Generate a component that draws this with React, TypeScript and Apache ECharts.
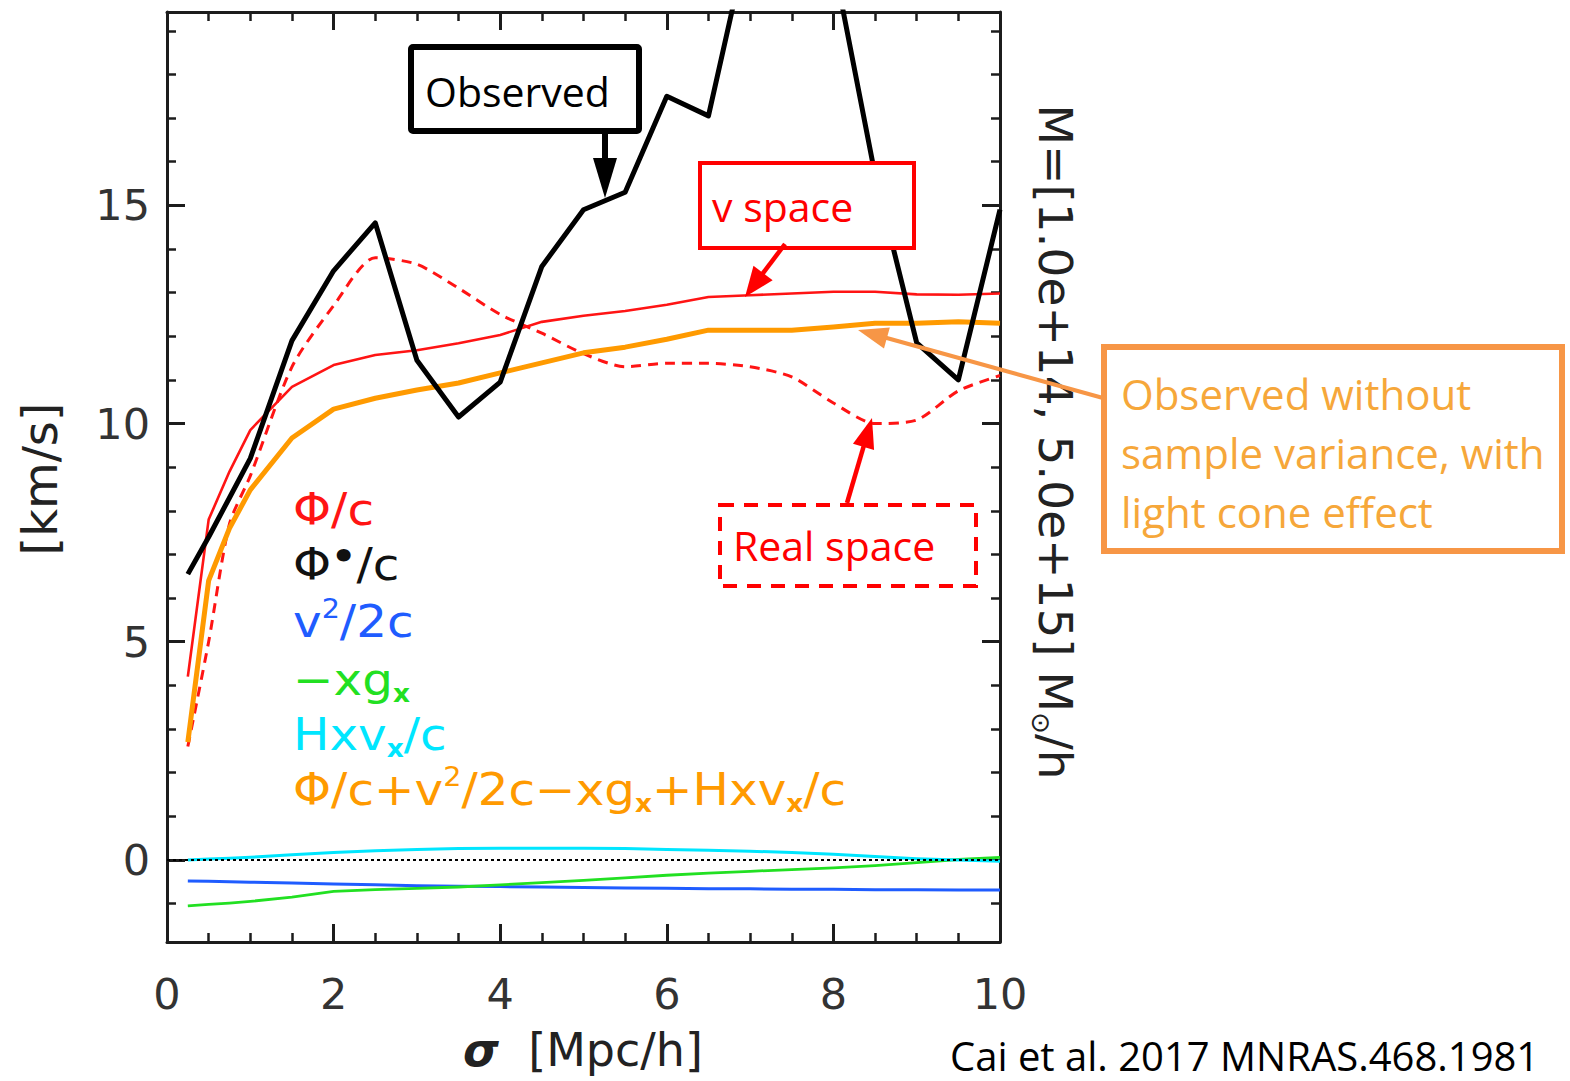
import React, { useEffect, useRef } from 'react';
import * as echarts from 'echarts';

// sigma [Mpc/h]
const sigma = [0.25, 0.5, 0.75, 1, 1.5, 2, 2.5, 3, 3.5, 4, 4.5, 5, 5.5, 6, 6.5, 7, 7.5, 8, 8.5, 9, 9.5, 10];
// Φ*/c observed (black)
const observed = [6.55, 7.4, 8.3, 9.2, 11.9, 13.5, 14.6, 11.45, 10.15, 10.95, 13.6, 14.9, 15.3, 17.5, 17.05, 21.3, 22.0, 20.6, 15.7, 11.85, 11.0, 14.9];
// Φ/c in v space (red solid)
const vSpace = [4.2, 7.8, 8.9, 9.85, 10.84, 11.34, 11.57, 11.68, 11.84, 12.03, 12.33, 12.47, 12.58, 12.72, 12.9, 12.94, 12.98, 13.02, 13.02, 12.96, 12.95, 12.98];
// Φ/c in real space (red dashed)
const realSpace = [2.6, 5.0, 7.7, 8.8, 11.3, 12.7, 13.8, 13.65, 13.1, 12.5, 12.07, 11.6, 11.3, 11.38, 11.38, 11.3, 11.07, 10.47, 10.0, 10.08, 10.75, 11.1];
// v^2/2c (blue)
const v2 = [-0.48, -0.49, -0.5, -0.51, -0.53, -0.55, -0.57, -0.59, -0.6, -0.61, -0.62, -0.63, -0.64, -0.65, -0.66, -0.66, -0.67, -0.67, -0.68, -0.68, -0.69, -0.69];
// -x g_x (green)
const xg = [-1.05, -1.02, -0.99, -0.95, -0.85, -0.72, -0.68, -0.65, -0.62, -0.57, -0.52, -0.47, -0.41, -0.35, -0.3, -0.26, -0.22, -0.18, -0.13, -0.06, 0.01, 0.06];
// H x v_x / c (cyan)
const hxv = [0.0, 0.02, 0.04, 0.06, 0.12, 0.17, 0.21, 0.24, 0.26, 0.27, 0.27, 0.27, 0.26, 0.24, 0.22, 0.2, 0.17, 0.13, 0.08, 0.03, 0.0, -0.03];
// sum (orange)
const total = [2.7, 6.4, 7.6, 8.48, 9.67, 10.33, 10.58, 10.77, 10.93, 11.16, 11.39, 11.62, 11.75, 11.93, 12.14, 12.14, 12.14, 12.21, 12.3, 12.3, 12.33, 12.3];

const yMajor = [0, 5, 10, 15];
const yMinor = [-1, 1, 2, 3, 4, 6, 7, 8, 9, 11, 12, 13, 14, 16, 17, 18, 19];
const Y_MIN = -1.88;
const Y_MAX = 19.43;

const C_RED = '#ff1414';
const C_ORANGE = '#ff9a00';
const C_BLUE = '#1f5cff';
const C_GREEN = '#22e022';
const C_CYAN = '#00e6ff';
const C_BOX_OR = '#f79646';
const C_TXT_OR = '#f6a73a';
const FRAME = '#1c1c1c';
const IDL = 'DejaVu Sans';
const CAL = 'Open Sans';

function arrow(x1: number, y1: number, x2: number, y2: number, color: string, w: number, hl: number, hw: number) {
  const dx = x2 - x1, dy = y2 - y1;
  const L = Math.hypot(dx, dy);
  const ux = dx / L, uy = dy / L;
  const bx = x2 - ux * hl, by = y2 - uy * hl;
  const px = -uy, py = ux;
  return [
    { type: 'line', shape: { x1, y1, x2: bx + ux * 2, y2: by + uy * 2 }, style: { stroke: color, lineWidth: w } },
    {
      type: 'polygon',
      shape: { points: [[x2, y2], [bx + px * hw / 2, by + py * hw / 2], [bx - px * hw / 2, by - py * hw / 2]] },
      style: { fill: color },
    },
  ];
}

function legendText(text: string, color: string, x: number, y: number) {
  return {
    type: 'text',
    x,
    y,
    scaleX: 1.1,
    style: {
      text,
      fill: color,
      verticalAlign: 'middle',
      align: 'left',
      rich: {
        b: { fontSize: 44, fontFamily: IDL, fill: color, lineHeight: 52 },
        sup: { fontSize: 26, fontFamily: IDL, fill: color, lineHeight: 26, verticalAlign: 'top' },
        dot: { fontSize: 36, fontFamily: IDL, fill: color, lineHeight: 30, verticalAlign: 'top', fontWeight: 'bold' },
        sub: { fontSize: 24, fontFamily: IDL, fill: color, lineHeight: 24, verticalAlign: 'bottom', fontWeight: 'bold' },
      },
    },
  };
}

function calText(text: string, color: string, x: number, y: number, size = 41) {
  return {
    type: 'text',
    x,
    y,
    style: { text, fill: color, fontFamily: CAL, fontSize: size, verticalAlign: 'middle', align: 'left' },
  };
}

export default function App() {
  const ref = useRef<HTMLDivElement>(null);
  useEffect(() => {
    const chart = echarts.init(ref.current!, null, { renderer: 'svg' });
    const pairs = (arr: number[]) => sigma.map((s, i) => [s, arr[i]]);
    const tickStyle = { color: FRAME, width: 3 };
    const minorStyle = { color: FRAME, width: 2.5 };
    const xBase = (pos: string, labels: boolean) => ({
      type: 'value',
      position: pos,
      min: 0,
      max: 10,
      interval: 2,
      axisLine: { show: true, onZero: false, lineStyle: { color: FRAME, width: 3 } },
      axisTick: { show: true, inside: true, length: 18, lineStyle: tickStyle },
      minorTick: { show: true, splitNumber: 4, length: 9, lineStyle: minorStyle },
      splitLine: { show: false },
      minorSplitLine: { show: false },
      axisLabel: { show: labels, margin: 30, fontSize: 43, fontFamily: IDL, color: '#333' },
    });
    const yMaj = (pos: string, labels: boolean) => ({
      type: 'value',
      position: pos,
      min: Y_MIN,
      max: Y_MAX,
      axisLine: { show: true, onZero: false, lineStyle: { color: FRAME, width: 3 } },
      axisTick: { show: true, inside: true, length: 18, lineStyle: tickStyle, customValues: yMajor },
      splitLine: { show: false },
      axisLabel: { show: labels, customValues: yMajor, margin: 17, fontSize: 43, fontFamily: IDL, color: '#333' },
    });
    const yMin = (pos: string) => ({
      type: 'value',
      position: pos,
      min: Y_MIN,
      max: Y_MAX,
      axisLine: { show: false, onZero: false },
      axisTick: { show: true, inside: true, length: 9, lineStyle: minorStyle, customValues: yMinor },
      splitLine: { show: false },
      axisLabel: { show: false },
    });
    const line = (name: string, arr: number[], color: string, width: number, extra: any = {}) => ({
      name,
      type: 'line',
      data: pairs(arr),
      xAxisIndex: 0,
      yAxisIndex: 0,
      symbol: 'none',
      showSymbol: false,
      clip: true,
      lineStyle: { color, width, cap: 'butt', join: 'round', ...(extra.lineStyle || {}) },
      smooth: extra.smooth || false,
      z: extra.z || 2,
      markLine: extra.markLine,
    });

    const graphics: any[] = [
      // legend
      legendText('{b|Φ/c}', C_RED, 293, 510),
      legendText('{b|Φ}{dot|•}{b|/c}', '#111', 293, 565),
      legendText('{b|v}{sup|2}{b|/2c}', C_BLUE, 293, 622),
      legendText('{b|−xg}{sub|x}', C_GREEN, 293, 680),
      legendText('{b|Hxv}{sub|x}{b|/c}', C_CYAN, 293, 735),
      legendText('{b|Φ/c+v}{sup|2}{b|/2c−xg}{sub|x}{b|+Hxv}{sub|x}{b|/c}', C_ORANGE, 293, 790),
      // axis names
      {
        type: 'text',
        x: 40,
        y: 479,
        rotation: Math.PI / 2,
        style: { text: '[km/s]', fill: '#222', fontFamily: IDL, fontSize: 48, align: 'center', verticalAlign: 'middle' },
      },
      {
        type: 'text',
        x: 583,
        y: 1050,
        style: {
          text: '{i|σ}{b|  [Mpc/h]}',
          align: 'center',
          verticalAlign: 'middle',
          rich: {
            i: { fontSize: 46, fontFamily: IDL, fontStyle: 'italic', fontWeight: 'bold', fill: '#222' },
            b: { fontSize: 46, fontFamily: IDL, fill: '#222' },
          },
        },
      },
      {
        type: 'text',
        x: 1055,
        y: 442,
        rotation: -Math.PI / 2,
        style: {
          text: '{b|M=[1.0e+14, 5.0e+15] M}{s|⊙}{b|/h}',
          align: 'center',
          verticalAlign: 'middle',
          rich: {
            b: { fontSize: 47, fontFamily: IDL, fill: '#222', lineHeight: 54 },
            s: { fontSize: 26, fontFamily: IDL, fill: '#222', lineHeight: 26, verticalAlign: 'bottom' },
          },
        },
      },
      // annotation boxes
      { type: 'rect', shape: { x: 411, y: 47, width: 228, height: 84, r: 2 }, style: { fill: '#fff', stroke: '#000', lineWidth: 6 }, z: 10 },
      { ...calText('Observed', '#000', 425, 91), z: 11 },
      ...arrow(605, 133, 605, 198, '#000', 6, 40, 24).map((e) => ({ ...e, z: 10 })),
      { type: 'rect', shape: { x: 700, y: 163, width: 214, height: 85 }, style: { fill: '#fff', stroke: '#ff0000', lineWidth: 4 }, z: 10 },
      { ...calText('v space', '#ff0000', 712, 206), z: 11 },
      ...arrow(785, 244, 745, 297, '#ff0000', 4.5, 30, 24).map((e) => ({ ...e, z: 10 })),
      { type: 'rect', shape: { x: 720, y: 505, width: 256, height: 81 }, style: { fill: 'none', stroke: '#ff0000', lineWidth: 4, lineDash: [14, 10] }, z: 10 },
      { ...calText('Real space', '#ff0000', 733, 545), z: 11 },
      ...arrow(847, 503, 872, 418, '#ff0000', 4.5, 30, 22).map((e) => ({ ...e, z: 10 })),
      { type: 'rect', shape: { x: 1104, y: 347, width: 458, height: 204 }, style: { fill: '#fff', stroke: C_BOX_OR, lineWidth: 6 }, z: 10 },
      { ...calText('Observed without', C_TXT_OR, 1121, 393, 42), z: 11 },
      { ...calText('sample variance, with', C_TXT_OR, 1121, 452, 42), z: 11 },
      { ...calText('light cone effect', C_TXT_OR, 1121, 511, 42), z: 11 },
      ...arrow(1103, 398, 858, 330, C_BOX_OR, 4, 30, 22).map((e) => ({ ...e, z: 10 })),
      // citation
      calText('Cai et al. 2017 MNRAS.468.1981', '#000', 950, 1055, 40),
    ];

    const option: any = {
      animation: false,
      backgroundColor: '#fff',
      grid: { left: 167, top: 12, right: 570, bottom: 139, containLabel: false },
      xAxis: [xBase('bottom', true), xBase('top', false)],
      yAxis: [yMaj('left', true), yMin('left'), yMaj('right', false), yMin('right')],
      series: [
        line('Real space Φ/c', realSpace, C_RED, 3, { lineStyle: { type: [10, 7] }, smooth: 0.25 }),
        line('v space Φ/c', vSpace, C_RED, 2.6),
        line('v²/2c', v2, C_BLUE, 3, {
          markLine: {
            silent: true,
            symbol: 'none',
            label: { show: false },
            lineStyle: { color: '#000', type: [3, 3], width: 2 },
            data: [{ yAxis: 0 }],
          },
        }),
        line('−xg_x', xg, C_GREEN, 2.8),
        line('Hxv_x/c', hxv, C_CYAN, 3),
        line('Φ/c+v²/2c−xg_x+Hxv_x/c', total, C_ORANGE, 5),
        line('Φ*/c observed', observed, '#000', 5, { z: 3 }),
      ],
      graphic: { elements: graphics },
    };
    chart.setOption(option);
    return () => chart.dispose();
  }, []);
  return (
    <div
      ref={ref}
      style={{ position: 'fixed', left: 0, top: 0, width: 1570, height: 1081, background: '#fff' }}
    />
  );
}
